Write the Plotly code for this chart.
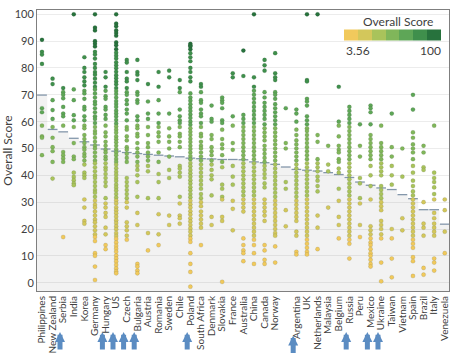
import plotly.graph_objects as go

countries = ["Philippines", "New Zealand", "Serbia", "India", "Korea", "Germany", "Hungary", "US",
             "Czech", "Bulgaria", "Austria", "Romania", "Sweden", "Chile", "Poland", "South Africa",
             "Denmark", "Slovakia", "France", "Australia", "China", "Canada", "Norway", "",
             "Argentina", "UK", "Netherlands", "Malaysia", "Belgium", "Russia", "Peru", "Mexico",
             "Ukraine", "Taiwan", "Vietnam", "Spain", "Brazil", "Italy", "Venezuela"]

mean_score = [69.9, 57.1, 56.2, 53.8, 52.5, 51.3, 49.8, 49.0, 48.5, 48.1, 47.8, 47.5, 47.2, 46.9,
              46.4, 46.2, 46.1, 45.9, 45.9, 45.8, 45.0, 44.7, 44.1, 43.1, 42.2, 41.9, 41.6, 41.0,
              40.3, 39.2, 37.5, 36.3, 35.3, 34.7, 32.8, 31.3, 27.2, 27.2, 21.8]

arrow_countries = ["Serbia", "Hungary", "US", "Czech", "Bulgaria", "Poland", "Argentina",
                   "Russia", "Mexico", "Ukraine"]

philippines = [90.5, 86, 85, 81.5, 65, 63.5, 58.5, 54.5, 54, 47.5]
new_zealand = [76, 74, 68, 64.3, 61, 58, 54, 50.5, 49, 45, 38.8]
serbia = [72.5, 71, 70, 68.7, 65.5, 63, 62, 58.5, 48.7, 47.5, 46.3, 45, 17]
india = [100, 72, 68, 62.4, 60.5, 58, 52, 47, 46, 41, 39.4, 38.2, 37, 36.3]
korea = [84, 80, 78.5, 76.5, 75, 73.5, 71.5, 70.5, 68.5, 65.5, 64.5, 62, 60.5, 58.5, 57.5, 55,
         53.5, 52, 50.5, 49.5, 48, 47, 45.5, 44, 41, 40, 39, 31, 28, 23, 22]
germany = [100, 95, 94, 90, 89, 88, 86, 85, 83.5, 81.5, 80, 78.5, 77.5, 76, 74.5, 73, 72, 70.5,
           69, 67.5, 66.5, 65, 63.5, 62, 61, 59.5, 58, 56.5, 55.5, 54, 52.5, 51, 50, 48.5, 47,
           45.5, 44.5, 43, 41.5, 40, 39, 37.5, 36, 34.5, 33.5, 32, 30.5, 29, 28, 26.5, 25, 23.5,
           22.5, 21, 19.5, 18, 17, 15.5, 11, 10, 6, 1]
hungary = [78.5, 76.5, 73, 71.5, 69.5, 68.5, 65.5, 64.5, 62.5, 61, 58.5, 56, 54.5, 52.5, 51,
           49.5, 48.5, 47, 46, 44.5, 43, 42, 40.5, 39, 37.5, 36, 31.5, 29.5, 28, 26, 24.5, 20.5,
           18, 14, 12.5]
us = [100, 96.5, 95.5, 94, 93, 92, 89.5, 88.5, 87, 85.7, 84.6, 83.5, 82.1, 81, 79.9, 78.6, 77.3,
      76.2, 75, 73.9, 72.5, 71.4, 70.3, 69, 67.7, 66.6, 65.5, 64.1, 63, 61.9, 60.6, 59.3, 58.2,
      57, 55.9, 54.5, 53.4, 52.3, 51, 49.7, 48.6, 47.5, 46.1, 45, 43.9, 42.6, 41.3, 40.2, 39,
      37.9, 36.5, 35.4, 34.3, 33, 31.7, 30.6, 29.5, 28.1, 27, 25.9, 24.6, 23.3, 22.2, 21, 19.9,
      18.5, 17.4, 16.3, 15, 13.7, 12.6, 11.5, 10.1, 9, 7.9, 6.6, 5.3, 4.2, 3.5]
czech = [83, 82, 78.5, 76, 75, 72.5, 71, 70, 68, 66.5, 64.5, 63, 60.5, 58, 57, 54.5, 53, 50.5,
         49.5, 48, 46.5, 45, 39, 37.5, 36, 34.5, 33, 31.5, 30, 28, 22.5, 21, 19.5, 17.5, 16]
bulgaria = [83, 78.5, 77.5, 75.5, 71, 70, 68, 67, 62, 60.5, 58.5, 57.5, 55.5, 54.5, 52, 50, 48.5,
            47, 45, 43.5, 42, 40, 37.5, 32, 26, 21.5, 7, 6, 4.5, 3.5]
austria = [74, 67.5, 63, 61, 58, 55, 52, 50.5, 48.5, 47, 45.5, 43.5, 41.5, 31.5, 18.5, 12]
romania = [78.5, 73, 68, 63, 59.5, 58, 56, 54.5, 52.5, 48.5, 45, 40.5, 37.5, 31.5, 25.5, 18, 14]
sweden = [79, 76.5, 63, 57.5, 54.5, 52.5, 50, 47, 42, 39, 25, 21.5]
chile = [75.5, 72.5, 71, 64.5, 62, 60.5, 59.5, 58, 55.5, 54.5, 52.5, 50.5, 43.5, 42.5, 41, 39.5,
         32, 29.5, 25, 24, 22]
poland = [89, 88.5, 88, 87, 85.5, 84, 82.5, 80, 78.5, 76.5, 75, 70.5, 69, 67.8, 66.5, 65.2, 64,
          62.7, 61.4, 60, 58.8, 57.5, 56.2, 55, 53.6, 52.4, 51, 49.8, 48.5, 47.2, 46, 44.6, 43.4,
          42, 40.8, 39.5, 38.2, 37, 35.6, 34.4, 33, 31.8, 30.5, 29.2, 28, 26.6, 25.4, 24, 22.8,
          21.5, 20.2, 19, 17.6, 16.4, 15.2, 11, 7, 4, -1.5]
south_africa = [74, 73, 71, 68, 67, 64.5, 63, 62, 59.5, 58, 55.5, 54.5, 52.5, 51, 50, 48.5, 47,
                45.5, 44, 42.5, 41, 39.5, 38, 36.5, 35, 33, 31.5, 30, 28.5, 26.5, 25, 23.5, 22,
                20.5, 14]
denmark = [66, 61, 60, 55, 53.5, 50.5, 49, 47.5, 45.5, 44, 42, 40, 38.5, 32.5, 24.5, 21.5]
slovakia = [69, 68, 67, 65, 60.5, 59.5, 57, 53.5, 51.5, 50, 47.5, 45, 43, 36.5, 35, 32, 31, 24.5,
            23, 0.3]
france = [78, 76.5, 62, 58.5, 52, 49.5, 43.5, 39.5, 36.5, 30.5, 27.5, 19.5]
australia = [86.5, 77, 62.5, 61, 59.5, 58, 56.5, 55, 53.5, 52, 50.5, 49, 47.5, 46, 44.5, 43, 41.5,
             40, 38.5, 37, 35.5, 34, 32.5, 31, 29.5, 28, 26.5, 16.5, 14, 12, 11, 8]
china = [100, 76.5, 73, 71.5, 70, 68.5, 67, 65.5, 64, 62.5, 61, 59.5, 58, 56.5, 55, 53.5, 52,
         50.5, 49, 47.5, 46, 44.5, 43, 41.5, 40, 38.5, 37, 35.5, 34, 32.5, 31, 29.5, 28, 26.5, 25,
         23.5, 22, 20.5, 19, 17.5, 16, 14, 11, 7]
canada = [83, 81, 79, 71, 69, 67, 65.5, 64, 62.5, 61, 59, 57.5, 56, 54.5, 53, 51, 49.5, 48, 46.5,
          45, 43.5, 42, 40.5, 39, 37, 35.5, 31, 29.5, 28, 26.5, 25, 23, 14, 12, 8.5, 7]
norway = [85.5, 78, 76.5, 75.5, 71, 70, 68.5, 66.5, 65, 63.5, 62, 60.5, 59, 57.5, 56, 54.5, 53,
          51.5, 50, 48.5, 47, 45.5, 44, 42.5, 41, 39.5, 38, 36.5, 35, 33.5, 32, 30.5, 29, 27.5,
          26, 24.5, 23, 21.5, 20, 18.5, 17.5, 13.5, 7.5]
unlabeled = [65, 52, 50, 37.5, 35, 27, 21]
argentina = [64.5, 63, 60, 57, 55, 53, 51.5, 50, 48.5, 47, 45.5, 44, 42.5, 41, 39.5, 38, 36.5, 35,
             33.5, 32, 30.5, 29, 27.5, 26, 24.5, 23, 19, 17.5, 11.5, 10.5]
uk = [100, 75.5, 75, 68.5, 67.5, 66, 62, 60.5, 59, 57.5, 56.5, 55, 53.5, 52, 50.5, 49, 47.5, 46,
      44.5, 43, 41.5, 40, 38.5, 37, 35.5, 34, 32.5, 31, 29.5, 28, 26.5, 25, 23.5, 22, 20.5, 19,
      17.5, 16, 14.5, 13, 11.5, 10.5]
netherlands = [100, 55, 52.5, 46, 44.5, 43, 41.5, 39.5, 38, 36, 34, 25, 20.5, 12.5]
malaysia = [51, 44, 41.5, 28]
belgium = [73, 60, 58.5, 54.5, 51, 49.5, 48.5, 46, 45, 42.5, 41, 35, 30.5, 24.5, 21.5, 16.5]
russia = [65.5, 64, 62.5, 61, 59.5, 58, 56.5, 55, 53.5, 52, 50.5, 49, 47.5, 46, 44.5, 43, 41.5,
          40, 38.5, 37, 35.5, 34, 32.5, 31, 29.5, 28, 26.5, 25, 23.5, 22, 20.5, 19, 17.5, 16,
          14.5, 9]
peru = [59, 51, 47, 39, 37, 31.5, 29.5, 21.5, 17]
mexico = [66, 65, 63.5, 59, 55, 53.5, 52, 50.5, 49, 47.5, 46, 43.5, 40, 36, 31, 21, 19.5, 18,
          16.5, 15, 14, 12.5, 11, 10, 8.5, 7, 6]
ukraine = [58.5, 52, 50.5, 49, 47.5, 46, 44.5, 43, 41.5, 40, 36, 34.5, 33, 31.5, 30, 28.5, 27,
           23, 21.5, 20, 18, 16.5, 7.5, 0.5]
taiwan = [63, 50.5, 47, 43.5, 40, 36.5, 20, 16.5, 9, 2]
vietnam = [50, 39.5, 24, 19.5]
spain = [70, 64.5, 56, 54, 51.5, 50, 48.5, 46, 43.5, 41, 38, 36, 34, 32.5, 31, 29.5, 28, 26.5,
         25, 23.5, 22, 20.5, 19, 17.5, 16, 14.5, 13, 9.5, 8, 2.5]
brazil = [51, 48.5, 43, 42, 30, 22, 20.5, 17.5, 5.5, 3]
italy = [58.5, 41, 39, 37.5, 35.5, 33, 31, 26, 24, 22, 20.5, 19, 17.5, 9, 7.5, 4.5]
venezuela = [31, 27, 19, 11]

scores = [philippines, new_zealand, serbia, india, korea, germany, hungary, us, czech, bulgaria,
          austria, romania, sweden, chile, poland, south_africa, denmark, slovakia, france,
          australia, china, canada, norway, unlabeled, argentina, uk, netherlands, malaysia,
          belgium, russia, peru, mexico, ukraine, taiwan, vietnam, spain, brazil, italy, venezuela]

score_min, score_max = 3.56, 100
colorbar_ticks = ["3.56", "100"]
palette = ["#f1c95c", "#d3c75b", "#a9c35b", "#80b65a", "#5ea657", "#3f8f4c", "#27723d"]

Y_MIN, Y_MAX = -3.1, 101.6

cs = []
n = len(palette)
for i, c in enumerate(palette):
    cs.append([i / n, c])
    cs.append([(i + 1) / n, c])

xs, ys = [], []
for i, vals in enumerate(scores):
    xs += [i] * len(vals)
    ys += vals

fig = go.Figure()

step_x = [i - 0.5 for i in range(len(mean_score))] + [len(mean_score) - 0.5]
step_y = mean_score + [mean_score[-1]]
fig.add_trace(go.Scatter(x=step_x, y=[Y_MIN] * len(step_x), mode="lines",
                         line=dict(width=0), hoverinfo="skip", showlegend=False))
fig.add_trace(go.Scatter(x=step_x, y=step_y, mode="lines", line_shape="hv",
                         line=dict(width=0), fill="tonexty", fillcolor="rgba(0,0,0,0.05)",
                         hoverinfo="skip", showlegend=False))

seg_x, seg_y = [], []
for i, m in enumerate(mean_score):
    seg_x += [i - 0.46, i + 0.46, None]
    seg_y += [m, m, None]
fig.add_trace(go.Scatter(x=seg_x, y=seg_y, mode="lines",
                         line=dict(color="#8497ab", width=1.3), hoverinfo="skip",
                         showlegend=False))

fig.add_trace(go.Scatter(
    x=xs, y=ys, mode="markers",
    marker=dict(size=4.2, color=ys, colorscale=cs, cmin=score_min, cmax=score_max,
                line=dict(width=0.4, color="rgba(40,60,40,0.3)"),
                colorbar=dict(orientation="h", x=0.864, xanchor="center", y=0.91,
                              yanchor="middle", len=0.236, lenmode="fraction",
                              thickness=11, outlinewidth=0, showticklabels=False,
                              ticks="", xpad=0, ypad=0)),
    showlegend=False, hovertemplate="%{y}<extra></extra>"))

fig.add_annotation(x=0.877, y=0.958, xref="paper", yref="paper", text="Overall Score",
                   showarrow=False, xanchor="center", yanchor="middle",
                   font=dict(size=12, color="#404040", family="Lato"))
fig.add_annotation(x=0.745, y=0.855, xref="paper", yref="paper", text=colorbar_ticks[0],
                   showarrow=False, xanchor="left", yanchor="middle",
                   font=dict(size=12, color="#404040", family="Lato"))
fig.add_annotation(x=0.985, y=0.855, xref="paper", yref="paper", text=colorbar_ticks[1],
                   showarrow=False, xanchor="right", yanchor="middle",
                   font=dict(size=12, color="#404040", family="Lato"))

for name in arrow_countries:
    idx = countries.index(name)
    tip = -0.146 if name != "Argentina" else -0.158
    fig.add_annotation(x=idx - 0.3, y=tip, xref="x", yref="paper", text="", showarrow=True,
                       ax=0, ay=19, arrowhead=2, arrowsize=0.4, arrowwidth=5,
                       arrowcolor="#5b8cc2")

fig.update_layout(
    width=454, height=359,
    margin=dict(l=37, r=5, t=10, b=68, autoexpand=False),
    paper_bgcolor="white", plot_bgcolor="white",
    font=dict(family="Lato", color="#404040"),
    xaxis=dict(range=[-0.47, 38.4], tickmode="array", tickvals=list(range(len(countries))),
               ticktext=countries, tickangle=-90, tickfont=dict(size=10, color="#404040"),
               showgrid=False, zeroline=False, showline=True, linecolor="#7f7f7f",
               linewidth=1, mirror=True, ticks="", automargin=False),
    yaxis=dict(range=[Y_MIN, Y_MAX], tickmode="array", tickvals=list(range(0, 101, 10)),
               tickfont=dict(size=11, color="#404040"), showgrid=True, gridcolor="#ececec",
               gridwidth=1, zeroline=False, showline=True, linecolor="#7f7f7f", linewidth=1,
               mirror=True, ticks="", automargin=False,
               title=dict(text="Overall Score", font=dict(size=12, color="#404040"), standoff=4)),
)

fig.write_html("out.html", config={"displayModeBar": False},
               post_script="document.body.style.margin='0';document.body.style.overflow='hidden';")
